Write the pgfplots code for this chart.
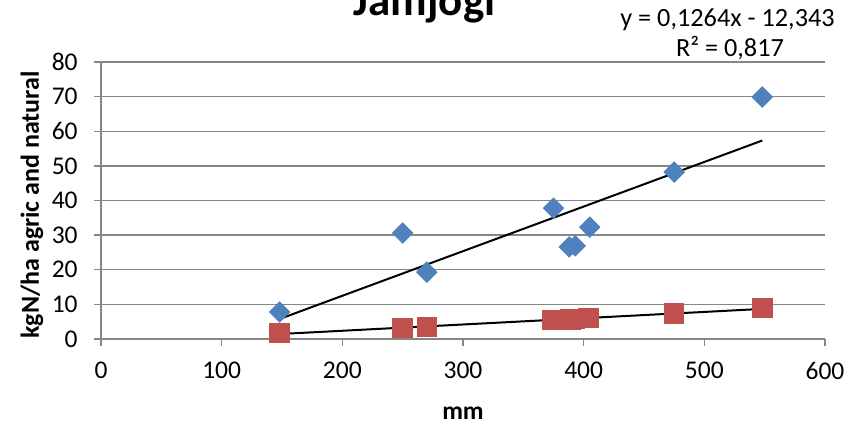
\documentclass[border=0pt]{standalone}
\usepackage{pgfplots}
\pgfplotsset{compat=1.18}
\usepackage{pgfplotstable}
\usepackage{fontspec}
\setmainfont{Carlito}
\definecolor{exblue}{RGB}{79,129,189}
\definecolor{exred}{RGB}{192,80,77}
\definecolor{gridgray}{RGB}{134,134,134}

\pgfplotstableread{
x y
148 7.8
250 30.6
270 19.3
375 37.8
388 26.6
393 26.9
405 32.3
475 48.2
548 69.9
}\agric
\pgfplotstableread{
x y
148 1.7
250 3.2
270 3.5
374 5.5
389 5.7
393 5.8
404 6.0
475 7.4
548 8.9
}\natural

\begin{document}
\begin{tikzpicture}
\path[use as bounding box] (0,0) rectangle (343.2pt,170.4pt);
\begin{axis}[
  at={(40.4pt,34.8pt)}, anchor=south west,
  scale only axis, width=289.6pt, height=110.8pt,
  xmin=0, xmax=600, ymin=0, ymax=80,
  xtick={0,100,...,600}, ytick={0,10,...,80},
  axis x line*=bottom, axis y line*=left,
  axis line style={gridgray, line width=0.6pt},
  tick style={gridgray, line width=0.6pt},
  tick align=outside, major tick length=2.8pt,
  ymajorgrids, grid style={gridgray, line width=0.6pt},
  ticklabel style={font=\fontsize{10.2}{12}\selectfont, text=black},
  /pgf/number format/assume math mode=true,
  yticklabel style={xshift=-3pt},
  xticklabel style={yshift=-3pt},
  xlabel={\textbf{mm}},
  xlabel style={font=\fontsize{10.2}{12}\selectfont, at={(axis description cs:0.5,-0.267)}, anchor=center},
  ylabel={\textbf{kgN/ha agric and natural}},
  ylabel style={font=\fontsize{10.4}{12}\selectfont, at={(axis description cs:-0.0953,0.484)}, anchor=center, rotate=0},
  clip=false,
]
\addplot[only marks, mark=square*, mark size=2.85pt, mark options={rotate=45, fill=exblue, draw=exblue}] table[x=x,y=y] {\agric};
\addplot[only marks, mark=square*, mark size=3.9pt, mark options={fill=exred, draw=exred}] table[x=x,y=y] {\natural};
\addplot[black, line width=0.8pt, no marks] table[x=x, y={create col/linear regression={y=y}}] {\agric};
\addplot[black, line width=0.8pt, no marks] table[x=x, y={create col/linear regression={y=y}}] {\natural};
\end{axis}
\node[anchor=base, font=\fontsize{18}{22}\bfseries\selectfont] at (169.8pt,164pt) {Jamjogi};
\node[anchor=base, font=\fontsize{10.5}{12}\selectfont] at (291pt,159.6pt) {y = 0,1264x - 12,343};
\node[anchor=base, font=\fontsize{10.5}{12}\selectfont] at (292pt,147.6pt) {R² = 0,817};
\end{tikzpicture}
\end{document}
